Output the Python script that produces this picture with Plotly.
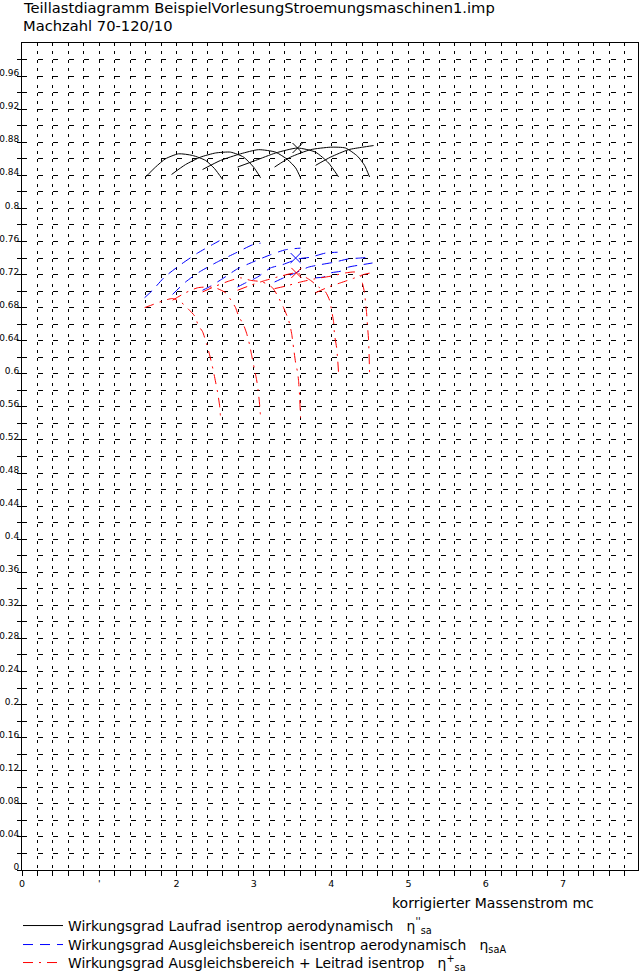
import plotly.graph_objects as go

FONT = "DejaVu Sans"

# ---------------- text ----------------
TITLE_LINE_1 = "Teillastdiagramm BeispielVorlesungStroemungsmaschinen1.imp"
TITLE_LINE_2 = "Machzahl 70-120/10"
X_TITLE = "korrigierter Massenstrom mc"
NAME_LAUFRAD = "Wirkungsgrad Laufrad isentrop aerodynamisch   η<sup>''</sup><sub>sa</sub>"
NAME_AUSGLEICH = "Wirkungsgrad Ausgleichsbereich isentrop aerodynamisch   η<sub>saA</sub>"
NAME_LEITRAD = "Wirkungsgrad Ausgleichsbereich + Leitrad isentrop   η<sup>+</sup><sub>sa</sub>"

# ---------------- ticks ----------------
X_TICK_VALUES = [0, 1, 2, 3, 4, 5, 6, 7]
X_TICK_LABELS = ["0", "'", "2", "3", "4", "5", "6", "7"]
Y_TICK_VALUES = [0, 0.04, 0.08, 0.12, 0.16, 0.2, 0.24, 0.28, 0.32, 0.36, 0.4, 0.44,
                 0.48, 0.52, 0.56, 0.6, 0.64, 0.68, 0.72, 0.76, 0.8, 0.84, 0.88, 0.92, 0.96]
Y_TICK_LABELS = ["0", "0.04", "0.08", "0.12", "0.16", "0.2", "0.24", "0.28", "0.32", "0.36",
                 "0.4", "0.44", "0.48", "0.52", "0.56", "0.6", "0.64", "0.68", "0.72", "0.76",
                 "0.8", "0.84", "0.88", "0.92", "0.96"]
X_RANGE = [0, 7.97]
Y_RANGE = [0, 1.0]

MACH = [70, 80, 90, 100, 110, 120]

# ---------------- Laufrad (black) ----------------
lr70_x = [1.599, 1.728, 1.857, 2.026, 2.207, 2.375, 2.492, 2.595]
lr70_y = [0.838, 0.850, 0.860, 0.866, 0.864, 0.858, 0.848, 0.835]
lr80_x = [1.935, 2.116, 2.310, 2.504, 2.699, 2.867, 2.996, 3.087]
lr80_y = [0.841, 0.853, 0.862, 0.867, 0.868, 0.862, 0.850, 0.837]
lr90_x = [2.336, 2.569, 2.828, 3.061, 3.281, 3.436, 3.540, 3.604]
lr90_y = [0.847, 0.858, 0.866, 0.871, 0.868, 0.859, 0.849, 0.837]
lr100_x = [2.789, 3.022, 3.281, 3.565, 3.798, 3.966, 4.096]
lr100_y = [0.850, 0.858, 0.867, 0.873, 0.868, 0.855, 0.838]
lr110_x = [3.268, 3.475, 3.733, 3.992, 4.186, 4.342, 4.432, 4.497]
lr110_y = [0.850, 0.862, 0.871, 0.874, 0.873, 0.863, 0.852, 0.838]
lr120_x = [3.798, 3.992, 4.225, 4.406, 4.549]
lr120_y = [0.852, 0.862, 0.871, 0.874, 0.876]

# ---------------- Ausgleichsbereich (blue) ----------------
ab70_x = [1.586, 1.689, 1.845, 2.052, 2.272, 2.479, 2.595]
ab70_y = [0.692, 0.701, 0.717, 0.732, 0.746, 0.757, 0.763]
ab80_x = [1.948, 2.116, 2.310, 2.543, 2.763, 2.983, 3.087]
ab80_y = [0.696, 0.711, 0.724, 0.736, 0.746, 0.756, 0.758]
ab90_x = [2.336, 2.440, 2.595, 2.789, 2.983, 3.216, 3.410, 3.604]
ab90_y = [0.701, 0.706, 0.715, 0.727, 0.735, 0.744, 0.750, 0.752]
ab100_x = [2.789, 2.893, 3.048, 3.216, 3.371, 3.578, 3.733, 3.927, 4.083]
ab100_y = [0.705, 0.710, 0.717, 0.728, 0.732, 0.739, 0.741, 0.746, 0.747]
ab110_x = [3.268, 3.384, 3.539, 3.707, 3.862, 4.044, 4.225, 4.380, 4.510]
ab110_y = [0.711, 0.716, 0.722, 0.729, 0.732, 0.735, 0.739, 0.740, 0.741]
ab120_x = [3.798, 3.901, 3.992, 4.121, 4.225, 4.406, 4.535]
ab120_y = [0.716, 0.717, 0.722, 0.724, 0.729, 0.732, 0.734]

# ---------------- Ausgleichsbereich + Leitrad (red) ----------------
lt70_x = [1.586, 1.702, 1.818, 1.948, 2.065, 2.155, 2.233, 2.284, 2.336, 2.388, 2.427,
          2.453, 2.479, 2.505, 2.530, 2.556, 2.569]
lt70_y = [0.680, 0.684, 0.688, 0.691, 0.686, 0.678, 0.670, 0.658, 0.651, 0.636, 0.623,
          0.613, 0.602, 0.590, 0.578, 0.562, 0.547]
lt80_x = [1.948, 2.116, 2.272, 2.440, 2.530, 2.634, 2.711, 2.763, 2.802, 2.867, 2.906,
          2.945, 2.970, 3.009, 3.035, 3.054, 3.074, 3.087]
lt80_y = [0.689, 0.698, 0.704, 0.705, 0.703, 0.698, 0.688, 0.680, 0.670, 0.659, 0.649,
          0.635, 0.623, 0.605, 0.593, 0.581, 0.563, 0.547]
lt90_x = [2.336, 2.505, 2.673, 2.828, 2.957, 3.113, 3.242, 3.320, 3.384, 3.449, 3.488,
          3.514, 3.539, 3.565, 3.578, 3.591, 3.604]
lt90_y = [0.699, 0.706, 0.712, 0.716, 0.713, 0.711, 0.704, 0.692, 0.680, 0.665, 0.649,
          0.631, 0.614, 0.602, 0.592, 0.574, 0.547]
lt100_x = [2.789, 2.957, 3.151, 3.345, 3.552, 3.733, 3.837, 3.927, 3.979, 4.005, 4.031,
           4.044, 4.070, 4.083, 4.096]
lt100_y = [0.701, 0.707, 0.713, 0.718, 0.722, 0.713, 0.705, 0.699, 0.689, 0.677, 0.663,
           0.647, 0.632, 0.619, 0.601]
lt110_x = [3.268, 3.410, 3.604, 3.798, 3.992, 4.186, 4.315, 4.380, 4.406, 4.432, 4.445,
           4.458, 4.471, 4.484, 4.490, 4.497]
lt110_y = [0.703, 0.706, 0.711, 0.715, 0.718, 0.722, 0.723, 0.718, 0.709, 0.698, 0.686,
           0.674, 0.657, 0.641, 0.625, 0.602]
lt120_x = [3.798, 3.966, 4.121, 4.277, 4.419, 4.561]
lt120_y = [0.698, 0.705, 0.710, 0.715, 0.720, 0.723]

# design point (Machzahl 100) on each family
design_x = [3.565, 3.54, 3.55]
design_y = [0.873, 0.740, 0.722]

COLORS = ["black", "#0000ff", "#ff0000"]
DASHES = ["solid", "10px,7px", "10px,6px,2px,6px"]
LEGENDS = ["legend", "legend2", "legend3"]

families = [
    (NAME_LAUFRAD, [(lr70_x, lr70_y), (lr80_x, lr80_y), (lr90_x, lr90_y),
                    (lr100_x, lr100_y), (lr110_x, lr110_y), (lr120_x, lr120_y)]),
    (NAME_AUSGLEICH, [(ab70_x, ab70_y), (ab80_x, ab80_y), (ab90_x, ab90_y),
                      (ab100_x, ab100_y), (ab110_x, ab110_y), (ab120_x, ab120_y)]),
    (NAME_LEITRAD, [(lt70_x, lt70_y), (lt80_x, lt80_y), (lt90_x, lt90_y),
                    (lt100_x, lt100_y), (lt110_x, lt110_y), (lt120_x, lt120_y)]),
]

fig = go.Figure()
for fi, (name, curves) in enumerate(families):
    for ci, (cx, cy) in enumerate(curves):
        fig.add_trace(go.Scatter(
            x=cx, y=cy, mode="lines", name=name,
            legend=LEGENDS[fi], legendgroup=name, showlegend=(ci == 0),
            line=dict(color=COLORS[fi], width=1, dash=DASHES[fi], shape="spline", smoothing=0.6),
            hoverinfo="skip",
        ))
    fig.add_trace(go.Scatter(
        x=[design_x[fi]], y=[design_y[fi]], mode="markers", showlegend=False,
        marker=dict(symbol="x-thin", size=10, line=dict(color=COLORS[fi], width=1)),
        hoverinfo="skip",
    ))

# grid positions every 0.2 in x, 0.02 in y
x_grid = [round(i * 0.2, 2) for i in range(0, 40)]
x_text = [X_TICK_LABELS[X_TICK_VALUES.index(v)] if v in X_TICK_VALUES else "" for v in x_grid]
y_grid = [round(i * 0.02, 2) for i in range(0, 50)]
y_text = [Y_TICK_LABELS[Y_TICK_VALUES.index(v)] if v in Y_TICK_VALUES else "" for v in y_grid]

axis_common = dict(
    showline=True, linecolor="black", linewidth=1, mirror=True,
    ticks="outside", tickcolor="black", tickwidth=1,
    showgrid=True, gridcolor="black", gridwidth=1,
    zeroline=False, tickmode="array", automargin=False,
)

fig.update_xaxes(range=X_RANGE, tickvals=x_grid, ticktext=x_text, ticklen=5,
                 griddash="3px,5.3px", tickfont=dict(family=FONT, size=9.5, color="black"),
                 **axis_common)
fig.update_yaxes(range=Y_RANGE, tickvals=y_grid, ticktext=y_text, ticklen=4,
                 griddash="5px,10.5px", tickfont=dict(family=FONT, size=9, color="black"),
                 ticklabelshift=-3, ticklabelstandoff=-4,
                 **axis_common)

PH = 827.0
PW = 616.0
LEG_FONT = dict(family=FONT, size=13.9, color="black")


def leg(ypix):
    return dict(x=-4 / PW, xanchor="left", y=(870 - ypix) / PH, yanchor="middle",
                font=LEG_FONT, bgcolor="rgba(0,0,0,0)", tracegroupgap=0,
                itemwidth=40, borderwidth=0)


fig.update_layout(
    width=639, height=976,
    margin=dict(l=22, r=1, t=43, b=106, autoexpand=False),
    paper_bgcolor="white", plot_bgcolor="white",
    font=dict(family=FONT, color="black"),
    showlegend=True,
    legend=leg(926), legend2=leg(945), legend3=leg(963),
    annotations=[
        dict(text=TITLE_LINE_1, xref="paper", yref="paper", x=-0.002, y=1 + 36 / PH,
             xanchor="left", yanchor="middle", showarrow=False,
             font=dict(family=FONT, size=14.7, color="black")),
        dict(text=TITLE_LINE_2, xref="paper", yref="paper", x=-0.002, y=1 + 18 / PH,
             xanchor="left", yanchor="middle", showarrow=False,
             font=dict(family=FONT, size=14.7, color="black")),
        dict(text=X_TITLE, xref="paper", yref="paper", x=368 / PW, y=-33 / PH,
             xanchor="left", yanchor="middle", showarrow=False,
             font=dict(family=FONT, size=14, color="black")),
    ],
)

# remove the browser's default 8 px body margin so the 639x976 figure fills the window
fig.write_html("out.html",
               config={"displayModeBar": False},
               post_script="document.body.style.margin='0';document.body.style.overflow='hidden';")
